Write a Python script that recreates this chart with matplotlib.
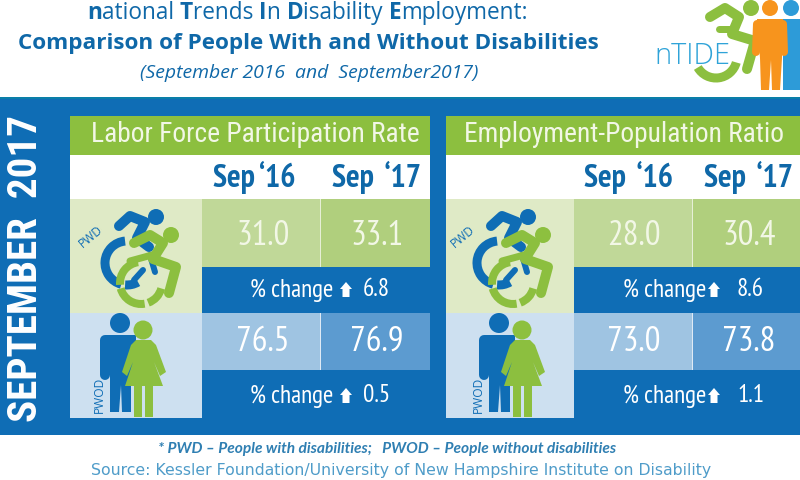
import matplotlib
matplotlib.use("Agg")
import matplotlib.pyplot as plt
from matplotlib.patches import Rectangle, Circle, Polygon, Arc

# ---- data -------------------------------------------------------------
panel_titles = ["Labor Force Participation Rate", "Employment-Population Ratio"]
col_labels = [["Sep ‘16", "Sep  ‘17"], ["Sep  ‘16", "Sep  ‘17"]]
pwd_sep16 = [31.0, 28.0]
pwd_sep17 = [33.1, 30.4]
pwd_change = [6.8, 8.6]
pwod_sep16 = [76.5, 73.0]
pwod_sep17 = [76.9, 73.8]
pwod_change = [0.5, 1.1]

title_runs = [("n", True), ("ational ", False), ("T", True), ("rends ", False), ("I", True),
              ("n ", False), ("D", True), ("isability ", False), ("E", True), ("mployment:", False)]
title_2 = "Comparison of People With and Without Disabilities"
title_3 = "(September 2016  and  September2017)"
side_label = "SEPTEMBER  2017"
footnote = "* PWD – People with disabilities;   PWOD – People without disabilities"
source = "Source: Kessler Foundation/University of New Hampshire Institute on Disability"

# ---- colours ----------------------------------------------------------
BLUE = "#0f6db5"; TITLE_BLUE = "#0f68a8"; GREEN = "#8cbf3f"; HEAD_GREEN = "#8dc03f"
PWD_BG = "#dfeac6"; PWOD_BG = "#cde0f0"
PWD_16 = "#c0d898"; PWD_17 = "#b0cf7d"; PWOD_16 = "#9fc4e2"; PWOD_17 = "#5c9bd0"
CONDENSED = ["Roboto Condensed", "Liberation Sans"]
NARROW = ["PT Sans Narrow", "Roboto Condensed", "Liberation Sans"]

fig = plt.figure(figsize=(8, 4.8), dpi=100, facecolor="white")
ax = fig.add_axes([0, 0, 1, 1])
ax.set_xlim(0, 800); ax.set_ylim(480, 0); ax.axis("off")

def px(v):
    return v * 0.72

def rect(x0, y0, x1, y1, c, z=1):
    ax.add_patch(Rectangle((x0, y0), x1 - x0, y1 - y0, fc=c, ec="none", zorder=z))

def line(pts, c, w, z=3):
    xs, ys = zip(*pts)
    ax.plot(xs, ys, color=c, lw=px(w), solid_capstyle="round", solid_joinstyle="round", zorder=z)

def circ(x, y, r, c, z=3):
    ax.add_patch(Circle((x, y), r, fc=c, ec="none", zorder=z))

def arc(x, y, r, a0, a1, c, w, z=3):
    ax.add_patch(Arc((x, y), 2 * r, 2 * r, theta1=a0, theta2=a1, color=c, lw=px(w), zorder=z))

def wheelchair(dx):
    # blue rider
    circ(156 + dx, 217, 8, BLUE, 3)
    line([(119 + dx, 226), (130 + dx, 216), (145 + dx, 222), (137 + dx, 238), (149 + dx, 247)], BLUE, 10)
    arc(127 + dx, 263, 22, 105, 265, BLUE, 9)
    arc(127 + dx, 263, 22, 60, 95, BLUE, 9)
    line([(143 + dx, 270), (134 + dx, 280)], BLUE, 6)
    line([(150 + dx, 255), (155 + dx, 272)], BLUE, 6)
    # green rider
    circ(171 + dx, 235, 8, HEAD_GREEN, 4)
    line([(134 + dx, 243), (150 + dx, 235), (163 + dx, 243), (153 + dx, 259), (176 + dx, 267), (169 + dx, 293)], GREEN, 10, 4)
    line([(130 + dx, 261), (152 + dx, 255)], GREEN, 7, 4)
    arc(141 + dx, 283, 21, 15, 70, GREEN, 8, 4)
    arc(141 + dx, 283, 21, 80, 165, GREEN, 8, 4)
    arc(141 + dx, 283, 21, 175, 262, GREEN, 8, 4)
    ax.text(91 + dx, 237, "PWD", rotation=40, color=BLUE, fontsize=px(12), family=["Open Sans"],
            ha="center", va="center", zorder=5)

def people(dx):
    # blue man
    circ(120 + dx, 323, 10, BLUE, 3)
    ax.add_patch(Polygon([(105 + dx, 335), (136 + dx, 335), (136 + dx, 380), (131 + dx, 380),
                          (131 + dx, 412), (122 + dx, 412), (121 + dx, 385), (119 + dx, 412),
                          (110 + dx, 412), (110 + dx, 375), (109 + dx, 350)], fc=BLUE, ec="none", zorder=3))
    line([(105 + dx, 340), (105 + dx, 375)], BLUE, 10)
    # green woman
    circ(143 + dx, 330, 9.5, HEAD_GREEN, 4)
    ax.add_patch(Polygon([(136 + dx, 340), (151 + dx, 340), (156 + dx, 345), (166 + dx, 372),
                          (160 + dx, 376), (154 + dx, 362), (163 + dx, 386), (125 + dx, 386),
                          (133 + dx, 362), (127 + dx, 376), (122 + dx, 372), (131 + dx, 345)],
                         fc=GREEN, ec="none", zorder=4))
    rect(134 + dx, 385, 142 + dx, 417, GREEN, 4)
    rect(145 + dx, 385, 153 + dx, 417, GREEN, 4)
    ax.text(99 + dx, 395, "PWOD", rotation=90, color=BLUE, fontsize=px(12), family=["Open Sans"],
            ha="center", va="center", zorder=5)

def arrow_up(x, y):
    ax.add_patch(Polygon([(x, y - 8), (x + 6, y - 1), (x + 3.5, y - 1), (x + 3.5, y + 7),
                          (x - 3.5, y + 7), (x - 3.5, y - 1), (x - 6, y - 1)],
                         fc="white", ec="none", zorder=4))

# ---- header -----------------------------------------------------------
fig.canvas.draw()
rnd = fig.canvas.get_renderer()
runs = []
total = 0
for s, b in title_runs:
    t = ax.text(0, 13, s.replace(" ", "\u00a0"), fontsize=px(22.6), family="Open Sans",
                weight="bold" if b else "normal", color=TITLE_BLUE, va="center", ha="left")
    w = t.get_window_extent(rnd).width
    runs.append((t, w)); total += w
x = 307.5 - total / 2
for t, w in runs:
    t.set_x(x); x += w

ax.text(308.5, 43, title_2, fontsize=px(22.5), family="Open Sans", weight="bold", color=TITLE_BLUE,
        ha="center", va="center")
ax.text(309, 73, title_3, fontsize=px(19.4), family="Open Sans", style="italic", color=TITLE_BLUE,
        ha="center", va="center")

# logo
circ(791, 8, 8, "#2d9bd8", 2)
ax.add_patch(Polygon([(783, 19), (800, 19), (800, 90), (783, 90)], fc="#2d9bd8", ec="none", zorder=2))
circ(751, 8, 8, GREEN, 2)
line([(710, 17), (725, 8), (739, 17), (732, 34), (755, 41), (747, 69)], GREEN, 10, 2)
line([(719, 29), (733, 29)], GREEN, 7, 2)
arc(716, 57, 21, 15, 150, GREEN, 9, 2)
circ(770, 8, 8, "#f7941d", 3)
ax.add_patch(Polygon([(757, 19), (783, 19), (782, 58), (780, 90), (772, 90), (771, 60),
                      (769, 90), (761, 90), (760, 58)], fc="#f7941d", ec="none", zorder=3))
line([(757, 24), (756, 52)], "#f7941d", 8)
line([(783, 24), (784, 52)], "#f7941d", 8)
ax.text(692, 56, "nTIDE", fontsize=px(29), family="Open Sans", weight="light", color="#2fa3d8",
        ha="center", va="center", zorder=5)

# ---- main blue band ---------------------------------------------------
rect(0, 97, 800, 435, BLUE)
rect(0, 97, 800, 99, "#0a7ea8", 2)
ax.text(26, 268, side_label, rotation=90, color="white", fontsize=px(41), family=CONDENSED,
        weight="bold", ha="center", va="center", zorder=3)

panels = [dict(x0=70, x1=430, xi=201, xm=320, c16=263, c17=377, h16=254, h17=377),
          dict(x0=446, x1=800, xi=573, xm=692, c16=634, c17=749, h16=629, h17=749)]
change_x = [(250, 346, 363), (623, 714, 737)]

for i, p in enumerate(panels):
    x0, x1, xi, xm = p["x0"], p["x1"], p["xi"], p["xm"]
    rect(x0, 116, x1, 155, GREEN, 2)
    rect(x0, 155, x1, 199, "white", 2)
    rect(x0, 199, xi + 1, 313, PWD_BG, 2)
    rect(x0, 313, xi + 1, 418, PWOD_BG, 2)
    rect(xi + 1, 199, xm, 267, PWD_16, 2)
    rect(xm, 199, xm + 1, 267, "#e6efd6", 2)
    rect(xm + 1, 199, x1, 267, PWD_17, 2)
    rect(xi + 1, 313, xm, 370, PWOD_16, 2)
    rect(xm, 313, xm + 1, 370, "#dfeaf5", 2)
    rect(xm + 1, 313, x1, 370, PWOD_17, 2)

    ax.text((93 + 418) / 2 if i == 0 else (460 + 787) / 2, 135, panel_titles[i], color="#f2f7e6", fontsize=px(27.5),
            family=CONDENSED, ha="center", va="center", zorder=3)
    for cx, lab in zip((p["h16"], p["h17"]), col_labels[i]):
        ax.text(cx, 177, lab, color=TITLE_BLUE, fontsize=px(32), family=NARROW, weight="bold",
                ha="center", va="center", zorder=3)

    for cx, y, v, col in ((p["c16"], 236, pwd_sep16[i], "#f2f7e6"), (p["c17"], 236, pwd_sep17[i], "#f2f7e6"),
                          (p["c16"], 342, pwod_sep16[i], "white"), (p["c17"], 342, pwod_sep17[i], "white")):
        ax.text(cx, y, f"{v:.1f}", color=col, fontsize=px(35), family=NARROW, ha="center", va="center", zorder=3)

    tx0, ar, vx = change_x[i]
    for yy, val in ((290, pwd_change[i]), (396, pwod_change[i])):
        ax.text(tx0, yy, "% change", color="white", fontsize=px(25), family=NARROW, ha="left",
                va="center", zorder=3)
        arrow_up(ar, yy)
        ax.text(vx, yy, f"{val:.1f}", color="white", fontsize=px(25), family=NARROW, ha="left",
                va="center", zorder=3)

wheelchair(0); wheelchair(372)
people(0); people(379)

# ---- footer -----------------------------------------------------------
ax.text(387, 449, footnote, fontsize=px(15.5), family="Lato", style="italic", weight="bold",
        color="#2f7fb2", ha="center", va="center")
ax.text(401, 470, source, fontsize=px(15.7), family="DejaVu Sans", color="#4f9cc9", ha="center", va="center")

fig.savefig("out.png", dpi=100)
